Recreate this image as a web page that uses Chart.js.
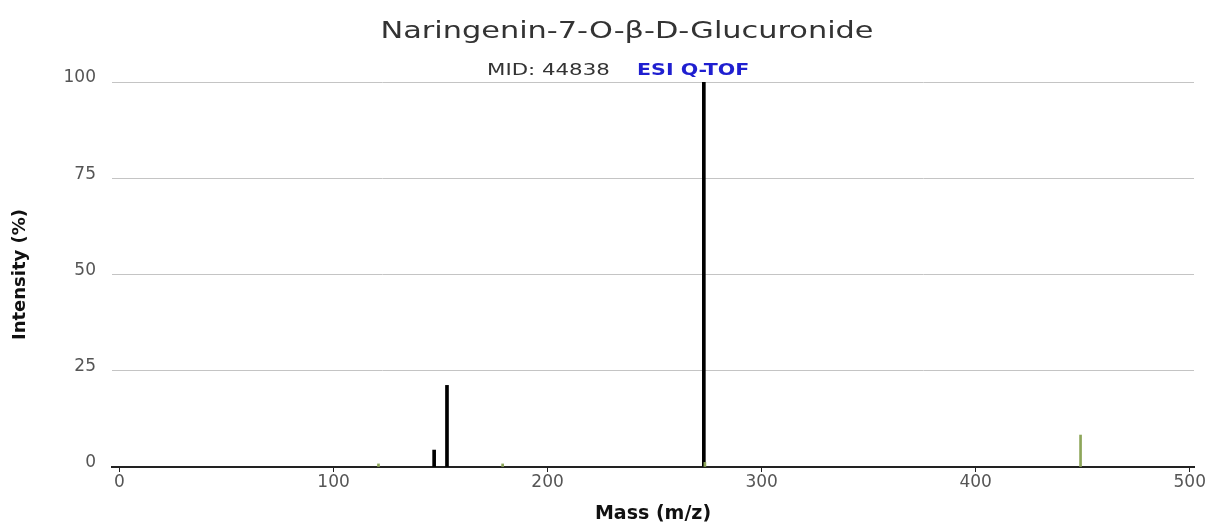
<!DOCTYPE html>
<html>
<head>
<meta charset="utf-8">
<title>Naringenin-7-O-β-D-Glucuronide</title>
<script src="https://cdn.jsdelivr.net/npm/chart.js@4.4.1/dist/chart.umd.min.js"></script>
<style>
    html, body { margin: 0; padding: 0; background: #fff; }
    #wrap { width: 1210px; height: 529px; position: relative; }
</style>
</head>
<body>
<div id="wrap"><canvas id="spectrum" width="1210" height="529"></canvas></div>
<script>
// Spectrum peaks (m/z, relative intensity %)
const measuredMz = [147, 153, 273];
const measuredIntensity = [4.4, 21.2, 100];
const predictedMz = [121, 179, 273.5, 449];
const predictedIntensity = [0.8, 0.8, 1.2, 8.3];

const xTicks = [0, 100, 200, 300, 400, 500];
const yTicks = [0, 25, 50, 75, 100];

const chartTitle = 'Naringenin-7-O-β-D-Glucuronide';
const specId = 'MID: 44838';
const instrument = 'ESI Q-TOF';

const toPoints = (xs, ys) => xs.map((x, i) => ({ x: x, y: ys[i] }));

// Draw text stretched horizontally by `sx`, anchored at x according to `align`
function wideText(ctx, text, x, y, sx, align) {
    const w = ctx.measureText(text).width * sx;
    let left = x;
    if (align === 'center') left = x - w / 2;
    ctx.save();
    ctx.translate(left, y);
    ctx.scale(sx, 1);
    ctx.textAlign = 'left';
    ctx.fillText(text, 0, 0);
    ctx.restore();
}

/**
 * Header text: compound name, spectrum id and instrument type
 */
const headerPlugin = {
    id: 'header',
    afterDraw(chart) {
        const ctx = chart.ctx;
        ctx.save();
        ctx.textBaseline = 'middle';
        ctx.fillStyle = '#333';
        ctx.font = '23px "DejaVu Sans", sans-serif';
        wideText(ctx, chartTitle, 627, 32, 1.32, 'center');

        ctx.font = '15px "DejaVu Sans", sans-serif';
        ctx.fillStyle = '#333';
        wideText(ctx, specId, 487, 71, 1.42, 'left');
        ctx.font = 'bold 16px "DejaVu Sans Condensed", "Liberation Sans Narrow", sans-serif';
        ctx.fillStyle = '#1f1fd0';
        wideText(ctx, instrument, 637, 71, 1.43, 'left');
        ctx.restore();
    }
};

new Chart(document.getElementById('spectrum'), {
    type: 'bar',
    data: {
        datasets: [{
            label: 'Predicted',
            data: toPoints(predictedMz, predictedIntensity),
            backgroundColor: '#8da65a',
            barThickness: 2,
            order: 0
        }, {
            label: 'Measured',
            data: toPoints(measuredMz, measuredIntensity),
            backgroundColor: '#000',
            barThickness: 3,
            order: 1
        }]
    },
    options: {
        responsive: false,
        animation: false,
        layout: {
            padding: { top: 82, right: 16, left: 0, bottom: 0 }
        },
        plugins: {
            legend: { display: false },
            tooltip: { enabled: false }
        },
        scales: {
            x: {
                type: 'linear',
                min: -3.5,
                max: 502,
                offset: false,
                afterBuildTicks(scale) {
                    scale.ticks = xTicks.map(v => ({ value: v }));
                },
                afterFit(scale) {
                    scale.height = 62;
                },
                grid: {
                    offset: false,
                    drawOnChartArea: false,
                    drawTicks: true,
                    tickLength: 5,
                    color: '#222'
                },
                border: { display: true, color: '#222', width: 2 },
                ticks: {
                    color: '#555',
                    padding: 0,
                    maxRotation: 0,
                    font: { family: '"DejaVu Sans", sans-serif', size: 17 }
                },
                title: {
                    display: true,
                    text: 'Mass (m/z)',
                    color: '#111',
                    padding: { top: 12 },
                    font: { family: '"DejaVu Sans", sans-serif', size: 19, weight: 'bold' }
                }
            },
            y: {
                min: 0,
                max: 100,
                afterBuildTicks(scale) {
                    scale.ticks = yTicks.map(v => ({ value: v }));
                },
                afterFit(scale) {
                    scale.width = 112;
                },
                grid: {
                    drawTicks: false,
                    color: ctx => ctx.tick.value === 0 ? 'rgba(0,0,0,0)' : '#c4c4c4',
                    lineWidth: 1
                },
                border: { display: false },
                ticks: {
                    color: '#555',
                    padding: 16,
                    labelOffset: -4,
                    font: { family: '"DejaVu Sans", sans-serif', size: 17 }
                },
                title: {
                    display: true,
                    text: 'Intensity (%)',
                    color: '#111',
                    padding: { top: 10, bottom: 0 },
                    font: { family: '"DejaVu Sans", sans-serif', size: 18, weight: 'bold' }
                }
            }
        },
        datasets: {
            bar: { grouped: false }
        }
    },
    plugins: [headerPlugin]
});
</script>
</body>
</html>
